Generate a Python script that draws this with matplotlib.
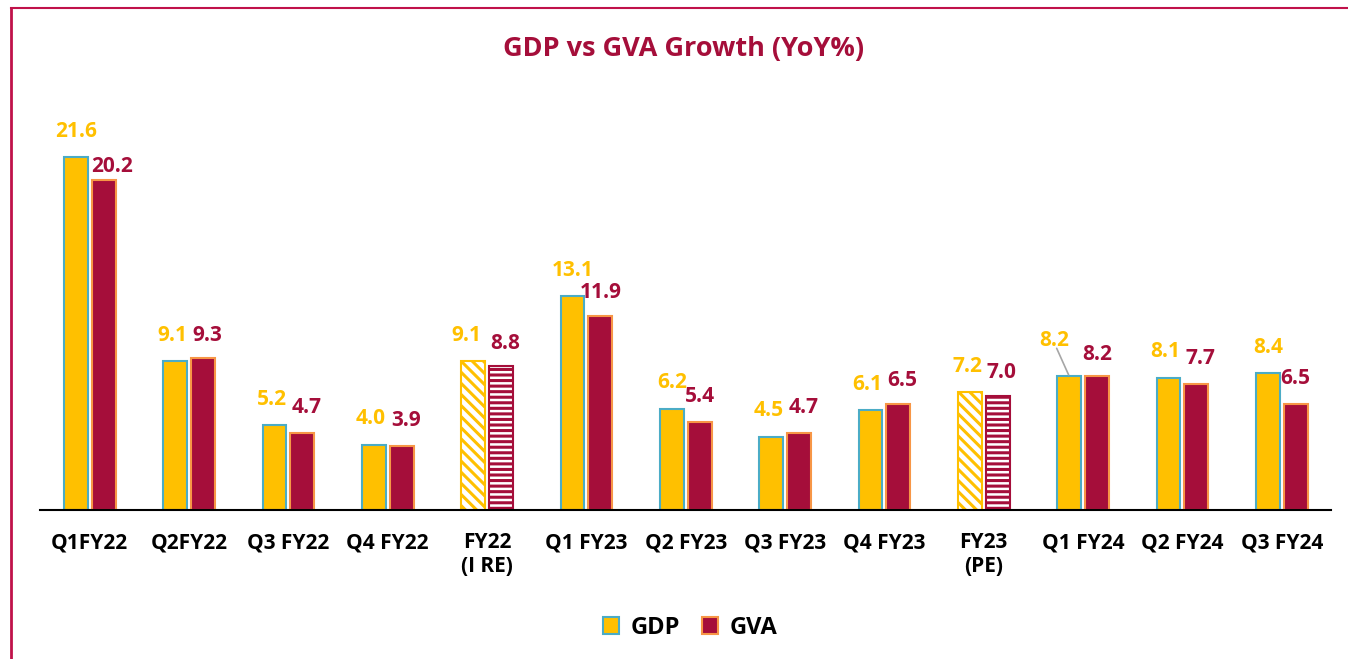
import numpy as np
import matplotlib
matplotlib.use('Agg')
import matplotlib.pyplot as plt
from matplotlib.patches import Patch
from matplotlib.lines import Line2D

# 資料
categories = ['Q1FY22', 'Q2FY22', 'Q3 FY22', 'Q4 FY22', 'FY22\n(I RE)',
              'Q1 FY23', 'Q2 FY23', 'Q3 FY23', 'Q4 FY23', 'FY23\n(PE)',
              'Q1 FY24', 'Q2 FY24', 'Q3 FY24']
gdp = [21.6, 9.1, 5.2, 4.0, 9.1, 13.1, 6.2, 4.5, 6.1, 7.2, 8.2, 8.1, 8.4]
gva = [20.2, 9.3, 4.7, 3.9, 8.8, 11.9, 5.4, 4.7, 6.5, 7.0, 8.2, 7.7, 6.5]
annual = [False, False, False, False, True, False, False, False, False, True,
          False, False, False]

GOLD = '#FFC000'
CRIMSON = '#A50E3A'
BLUE_EDGE = '#4BACC6'
ORANGE_EDGE = '#F79646'
BORDER = '#C0124A'

# 標籤微調 (points)
gdp_label_dx = [0, -2, -2, -2, -5, 0, 0, -2, -2, -2, -11, -2, 0]
gdp_label_dy = [11, 11, 11, 11, 11, 11, 11, 11, 11, 11, 18, 11, 11]
gva_label_dx = [6, 3, 3, 3, 3, 0, 0, 3, 3, 3, 0, 3, 0]
gva_label_dy = [2, 9, 11, 11, 9, 9, 11, 11, 9, 9, 8, 11, 11]

plt.rcParams['font.family'] = ['Open Sans', 'DejaVu Sans']
plt.rcParams['hatch.linewidth'] = 2.2


def draw_bars(ax, x, width=0.24, offset=0.14):
    for i in range(len(x)):
        if annual[i]:
            ax.bar(x[i] - offset, gdp[i], width, facecolor='white',
                   edgecolor=GOLD, hatch='\\\\\\', linewidth=1.5)
            ax.bar(x[i] + offset, gva[i], width, facecolor='white',
                   edgecolor=CRIMSON, hatch='---', linewidth=1.5)
        else:
            ax.bar(x[i] - offset, gdp[i], width, color=GOLD,
                   edgecolor=BLUE_EDGE, linewidth=1.5)
            ax.bar(x[i] + offset, gva[i], width, color=CRIMSON,
                   edgecolor=ORANGE_EDGE, linewidth=1.5)


def draw_labels(ax, x, offset=0.14):
    for i in range(len(x)):
        ax.annotate(f'{gdp[i]:.1f}', (x[i] - offset, gdp[i]),
                    xytext=(gdp_label_dx[i], gdp_label_dy[i]),
                    textcoords='offset points', ha='center', va='bottom',
                    color=GOLD, fontsize=15, fontweight='bold')
        ax.annotate(f'{gva[i]:.1f}', (x[i] + offset, gva[i]),
                    xytext=(gva_label_dx[i], gva_label_dy[i]),
                    textcoords='offset points', ha='center', va='bottom',
                    color=CRIMSON, fontsize=15, fontweight='bold')
    # Q1 FY24 的引導線
    i = 10
    ax.annotate('', (x[i] - offset, gdp[i]), xytext=(-9, 20),
                textcoords='offset points',
                arrowprops=dict(arrowstyle='-', color='#A6A6A6', lw=1.2,
                                shrinkA=0, shrinkB=1))


def main():
    fig = plt.figure(figsize=(13.48, 6.59), dpi=100)
    ax = fig.add_axes([0.0297, 0.226, 0.958, 0.595])
    x = np.arange(len(categories))

    draw_bars(ax, x)
    draw_labels(ax, x)

    ax.set_xlim(-0.5, len(categories) - 0.5)
    ax.set_ylim(0, 24)
    ax.set_xticks(x)
    ax.set_xticklabels(categories, fontsize=15, fontweight='bold',
                       linespacing=1.2)
    ax.tick_params(axis='x', length=0, pad=16)
    ax.set_yticks([])
    for s in ['top', 'left', 'right']:
        ax.spines[s].set_visible(False)
    ax.spines['bottom'].set_linewidth(1.5)

    fig.text(0.507, 0.926, 'GDP vs GVA Growth (YoY%)', ha='center',
             va='center', fontsize=19.5, fontweight='bold', color=CRIMSON)

    handles = [Patch(facecolor=GOLD, edgecolor=BLUE_EDGE, linewidth=1.5,
                     label='GDP'),
               Patch(facecolor=CRIMSON, edgecolor=ORANGE_EDGE, linewidth=1.5,
                     label='GVA')]
    fig.legend(handles=handles, loc='center', bbox_to_anchor=(0.512, 0.047),
               ncol=2, frameon=False, handlelength=0.7, handleheight=0.7,
               handletextpad=0.5, columnspacing=0.9,
               prop={'size': 17, 'weight': 'bold'})

    # 外框
    fig.add_artist(Line2D([0.0085, 0.0085], [0, 0.988], color=BORDER, lw=2,
                          transform=fig.transFigure))
    fig.add_artist(Line2D([0.0085, 1], [0.988, 0.988], color=BORDER, lw=1.5,
                          transform=fig.transFigure))

    fig.savefig('out.png', dpi=100, facecolor='white')


if __name__ == "__main__":
    main()
